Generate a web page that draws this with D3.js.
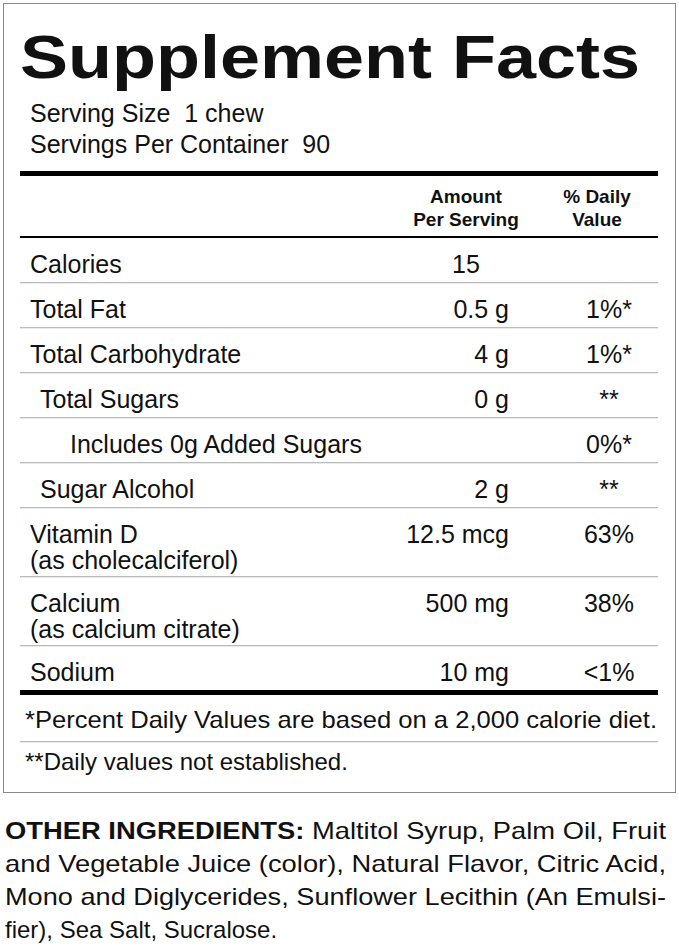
<!DOCTYPE html>
<html><head><meta charset="utf-8">
<script src="https://cdn.jsdelivr.net/npm/d3@7"></script>
<style>body{margin:0;background:#fff}svg{display:block}text{font-family:"Liberation Sans",Arial,sans-serif;fill:#111}</style>
</head><body><svg id="c" width="679" height="948"></svg>
<script>
const nutrients = ["Calories", "Total Fat", "Total Carbohydrate", "Total Sugars", "Includes 0g Added Sugars", "Sugar Alcohol", "Vitamin D", "Calcium", "Sodium"];
const subLabels = ["", "", "", "", "", "", "(as cholecalciferol)", "(as calcium citrate)", ""];
const indent = [0, 0, 0, 1, 2, 1, 0, 0, 0];
const amounts = ["15", "0.5 g", "4 g", "0 g", "", "2 g", "12.5 mcg", "500 mg", "10 mg"];
const dailyValues = ["", "1%*", "1%*", "**", "0%*", "**", "63%", "38%", "<1%"];
const footnotes = ["*Percent Daily Values are based on a 2,000 calorie diet.", "**Daily values not established."];
const ingredientLines = [
  ["OTHER INGREDIENTS:", " Maltitol Syrup, Palm Oil, Fruit"],
  ["", "and Vegetable Juice (color), Natural Flavor, Citric Acid,"],
  ["", "Mono and Diglycerides, Sunflower Lecithin (An Emulsi-"],
  ["", "fier), Sea Salt, Sucralose."]
];

const svg = d3.select("#c");
const L = 20, R = 658;

svg.append("rect").attr("x", 3.5).attr("y", 3.5).attr("width", 672).attr("height", 789)
  .attr("fill", "none").attr("stroke", "#888").attr("stroke-width", 1);

svg.append("text").attr("x", L).attr("y", 78).attr("font-size", 62).attr("font-weight", "bold")
  .attr("textLength", 620).attr("lengthAdjust", "spacingAndGlyphs").text("Supplement Facts");
svg.append("text").attr("x", 30).attr("y", 122).attr("font-size", 25).attr("xml:space", "preserve").text("Serving Size  1 chew");
svg.append("text").attr("x", 30).attr("y", 153).attr("font-size", 25).attr("xml:space", "preserve").text("Servings Per Container  90");

svg.append("rect").attr("x", L).attr("y", 171).attr("width", R - L).attr("height", 5).attr("fill", "#000");

const hdr = [["Amount", "Per Serving", 466], ["% Daily", "Value", 597]];
hdr.forEach(h => {
  const t = svg.append("text").attr("text-anchor", "middle").attr("font-size", 19).attr("font-weight", "bold");
  t.append("tspan").attr("x", h[2]).attr("y", 203).text(h[0]);
  t.append("tspan").attr("x", h[2]).attr("y", 226).text(h[1]);
});
svg.append("rect").attr("x", L).attr("y", 236).attr("width", R - L).attr("height", 2).attr("fill", "#000");

// row heights from line counts
const heights = nutrients.map((d, i) => subLabels[i] ? 69 : 45);
const tops = [];
heights.reduce((y, h) => (tops.push(y), y + h), 238);
const y = d3.scaleOrdinal(d3.range(nutrients.length), tops);

const rows = svg.append("g").selectAll("g").data(nutrients).join("g")
  .attr("transform", (d, i) => `translate(0,${y(i)})`);
rows.append("text").attr("x", (d, i) => 30 + [0, 10, 40][indent[i]]).attr("y", 35).attr("font-size", 25)
  .text(d => d).append("tspan").attr("x", 30).attr("dy", 26).text((d, i) => subLabels[i]);
rows.append("text").attr("font-size", 25)
  .attr("x", (d, i) => dailyValues[i] ? 509 : 466).attr("y", 35)
  .attr("text-anchor", (d, i) => dailyValues[i] ? "end" : "middle").text((d, i) => amounts[i]);
rows.append("text").attr("x", 609).attr("y", 35).attr("font-size", 25).attr("text-anchor", "middle").text((d, i) => dailyValues[i]);
rows.filter((d, i) => i < nutrients.length - 1).append("rect")
  .attr("x", L).attr("y", (d, i) => heights[i] - 1).attr("width", R - L).attr("height", 1.3).attr("fill", "#bbb");

const endY = tops[tops.length - 1] + heights[heights.length - 1];
svg.append("rect").attr("x", L).attr("y", endY - 1).attr("width", R - L).attr("height", 5).attr("fill", "#000");

footnotes.forEach((f, i) => {
  const t = svg.append("text").attr("x", 25).attr("y", endY + 37 + i * 42).attr("font-size", 24).text(f);
  if (i === 0) t.attr("textLength", 632).attr("lengthAdjust", "spacingAndGlyphs");
});
svg.append("rect").attr("x", L).attr("y", endY + 50).attr("width", R - L).attr("height", 1.3).attr("fill", "#bbb");

ingredientLines.forEach((l, i) => {
  const t = svg.append("text").attr("x", 5).attr("y", 839 + i * 33).attr("font-size", 24).attr("xml:space", "preserve");
  if (i < 3) t.attr("textLength", 661).attr("lengthAdjust", "spacingAndGlyphs");
  if (l[0]) t.append("tspan").attr("font-weight", "bold").text(l[0]);
  t.append("tspan").text(l[1]);
});
</script></body></html>
